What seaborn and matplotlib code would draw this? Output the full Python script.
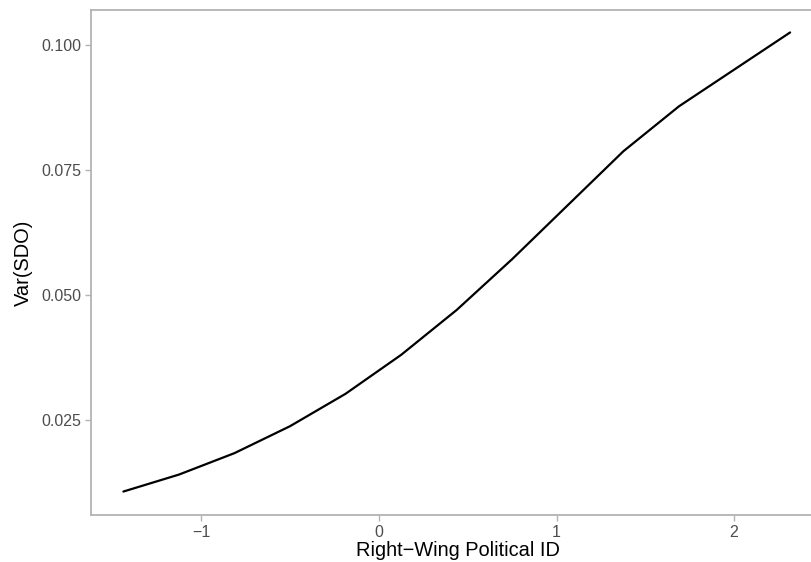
import matplotlib
matplotlib.use("Agg")
import matplotlib.pyplot as plt
import seaborn as sns
import pandas as pd

political_id = [-1.44, -1.127, -0.814, -0.501, -0.188, 0.125, 0.438, 0.751, 1.064, 1.377, 1.69, 2.003, 2.316]
var_sdo = [0.0106, 0.0140, 0.0183, 0.0237, 0.0302, 0.0380, 0.0470, 0.0572, 0.0680, 0.0788, 0.0878, 0.0952, 0.1026]
x_ticks = [-1, 0, 1, 2]
y_ticks = [0.025, 0.050, 0.075, 0.100]
y_ticklabels = ["0.025", "0.050", "0.075", "0.100"]

df = pd.DataFrame({"x": political_id, "y": var_sdo})

sns.set_style("white")
plt.rcParams["font.family"] = ["Liberation Sans", "DejaVu Sans"]

fig = plt.figure(figsize=(8.12, 5.62), dpi=100)
# panel spans past the right edge of the figure (cropped like the reference)
ax = fig.add_axes([91/812, 47/562, 733/812, 505/562])
sns.lineplot(data=df, x="x", y="y", ax=ax, color="black", linewidth=1.6)

ax.set_xlim(-1.6225, 2.5070)
ax.set_ylim(0.0059, 0.1071)
ax.set_xticks(x_ticks)
ax.set_xticklabels(["\u22121", "0", "1", "2"])
ax.set_yticks(y_ticks)
ax.set_yticklabels(y_ticklabels)
ax.set_xlabel("Right\u2212Wing Political ID", fontsize=14.4, color="black", labelpad=1)
ax.set_ylabel("Var(SDO)", fontsize=14.4, color="black", labelpad=6)
ax.tick_params(axis="both", which="both", length=4, width=1, color="#B3B3B3",
               labelsize=11.5, labelcolor="#4D4D4D", pad=3, bottom=True, left=True)
for s in ax.spines.values():
    s.set_color("#B3B3B3")
    s.set_linewidth(1.3)
ax.spines["right"].set_visible(False)
ax.grid(False)

fig.savefig("out.png", dpi=100)
